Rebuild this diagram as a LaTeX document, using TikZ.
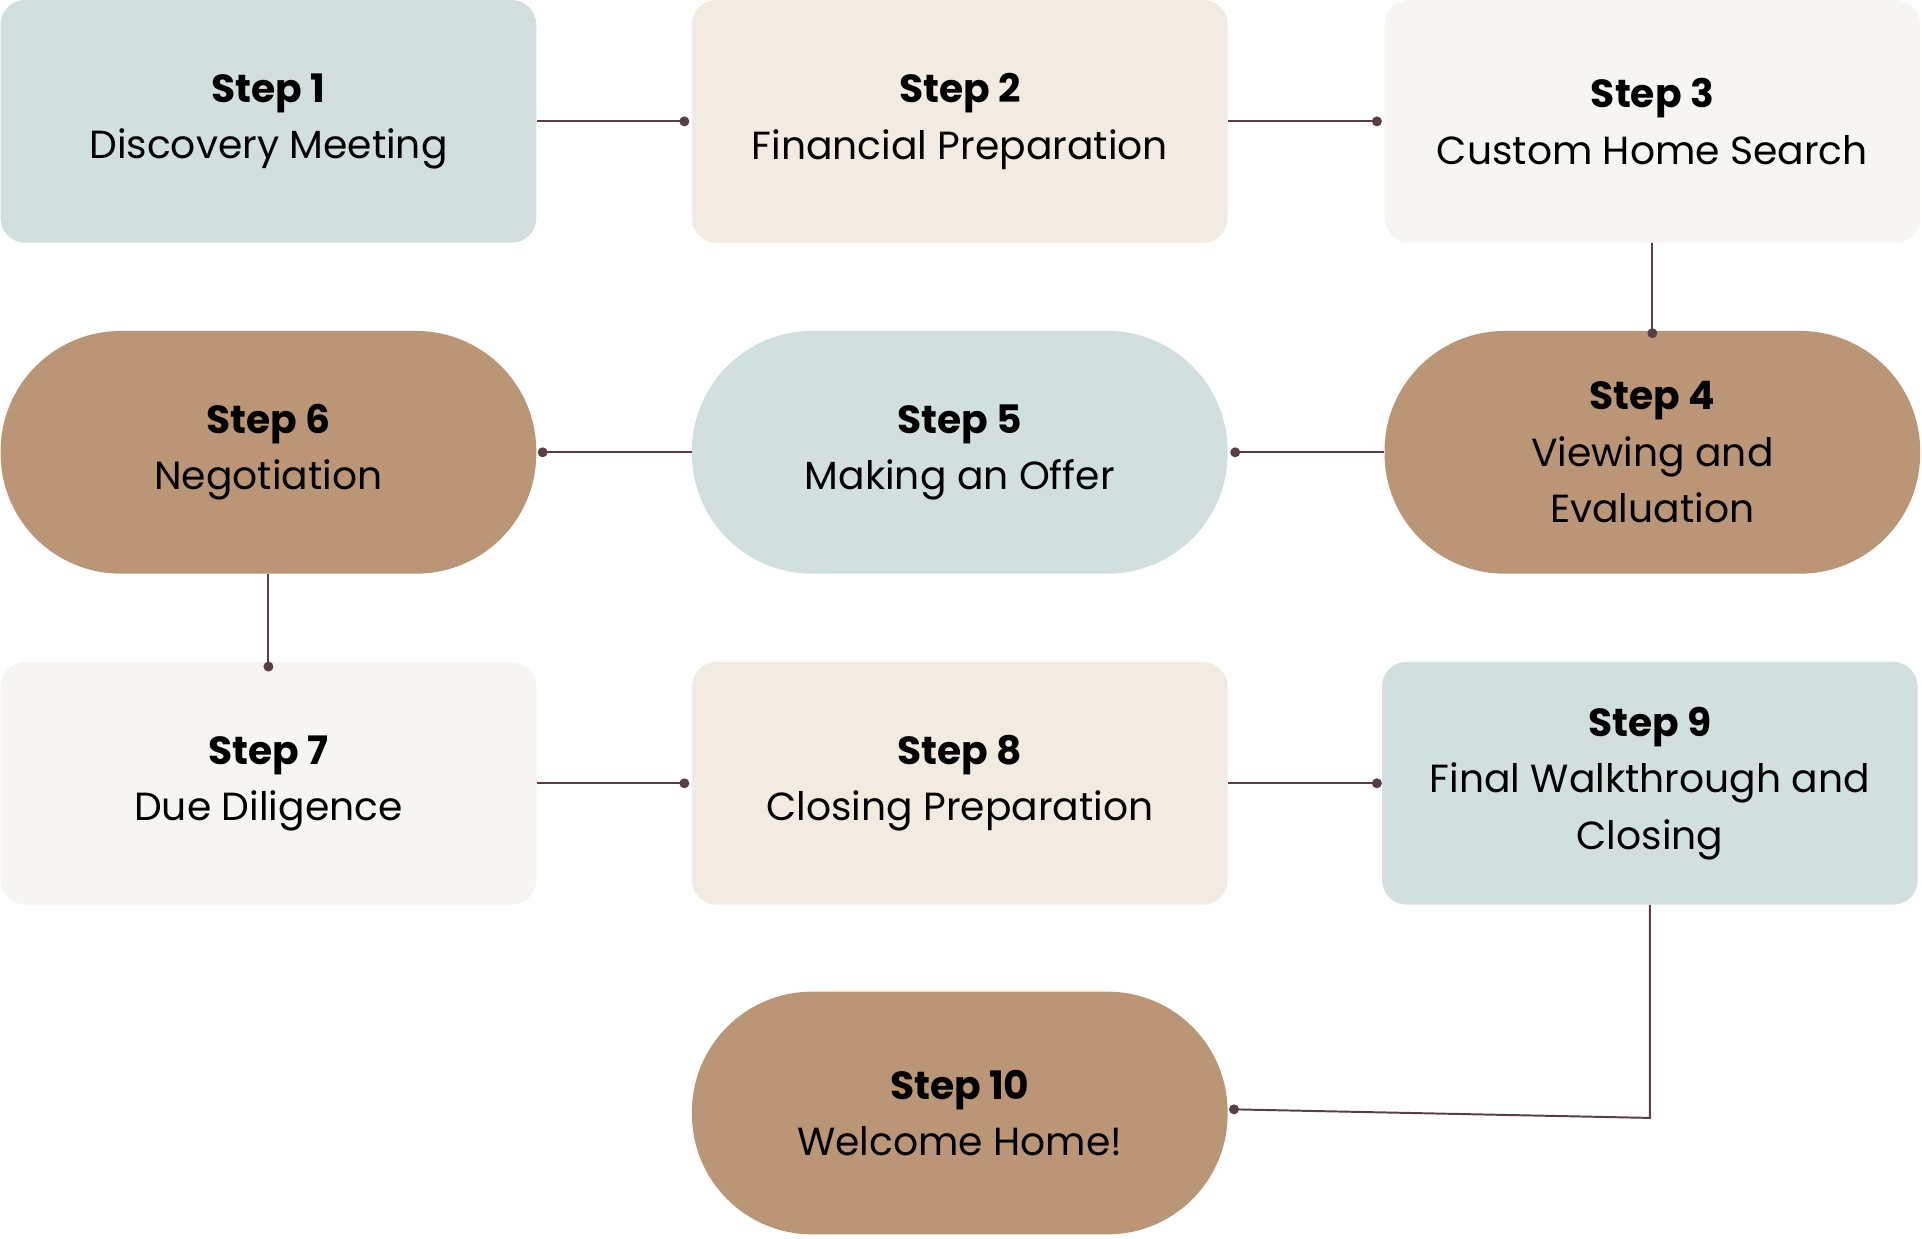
\documentclass[tikz,border=0pt]{standalone}
\usepackage{fontspec}
\setmainfont{Poppins}
\usetikzlibrary{arrows.meta}
\definecolor{sage}{HTML}{D1E0DF}
\definecolor{sand}{HTML}{F2EBE1}
\definecolor{ivory}{HTML}{F6F5F1}
\definecolor{clay}{HTML}{BA9676}
\definecolor{plum}{HTML}{5A3E46}
\tikzset{
  stage/.style={draw=none,rectangle,minimum width=437pt,minimum height=198pt,
    align=center,inner sep=0pt,font=\fontsize{32}{46}\selectfont},
  box/.style={stage,rounded corners=20pt},
  pill/.style={stage,rounded corners=98pt},
  link/.style={plum,line width=1.6pt,-{Circle[length=8pt]},shorten >=-3pt}
}
\begin{document}
\begin{tikzpicture}[x=1pt,y=-1pt]
\useasboundingbox (0,0) rectangle (1568,1010);
% row 1
\node[box,fill=sage]  (s1) at (219,99)  {\textbf{Step 1}\\Discovery Meeting};
\node[box,fill=sand]  (s2) at (783,99)  {\textbf{Step 2}\\Financial Preparation};
\node[box,fill=ivory] (s3) at (1348,99) {\textbf{Step 3}\\Custom Home Search};
% row 2
\node[pill,fill=clay] (s6) at (219,369)  {\textbf{Step 6}\\Negotiation};
\node[pill,fill=sage] (s5) at (783,369)  {\textbf{Step 5}\\Making an Offer};
\node[pill,fill=clay] (s4) at (1348,369) {\textbf{Step 4}\\Viewing and\\Evaluation};
% row 3
\node[box,fill=ivory] (s7) at (219,639)  {\textbf{Step 7}\\Due Diligence};
\node[box,fill=sand]  (s8) at (783,639)  {\textbf{Step 8}\\Closing Preparation};
\node[box,fill=sage]  (s9) at (1346,639) {\textbf{Step 9}\\Final Walkthrough and\\Closing};
% row 4
\node[pill,fill=clay] (s10) at (783,908) {\textbf{Step 10}\\Welcome Home!};

\draw[link] (s1.east) -- ([xshift=-5pt]s2.west);
\draw[link] (s2.east) -- ([xshift=-5pt]s3.west);
\draw[link] (s3.south) -- ([yshift=-3pt]s4.north);
\draw[link] (s4.west) -- ([xshift=5pt]s5.east);
\draw[link] (s5.west) -- ([xshift=4pt]s6.east);
\draw[link] (s6.south) -- ([yshift=-5pt]s7.north);
\draw[link] (s7.east) -- ([xshift=-5pt]s8.west);
\draw[link] (s8.east) -- ([xshift=-3pt]s9.west);
\coordinate (bend) at (s9.south |- 0,912);
\draw[link] (s9.south) -- (bend) -- ([xshift=4pt,yshift=3pt]s10.east);
\end{tikzpicture}
\end{document}
